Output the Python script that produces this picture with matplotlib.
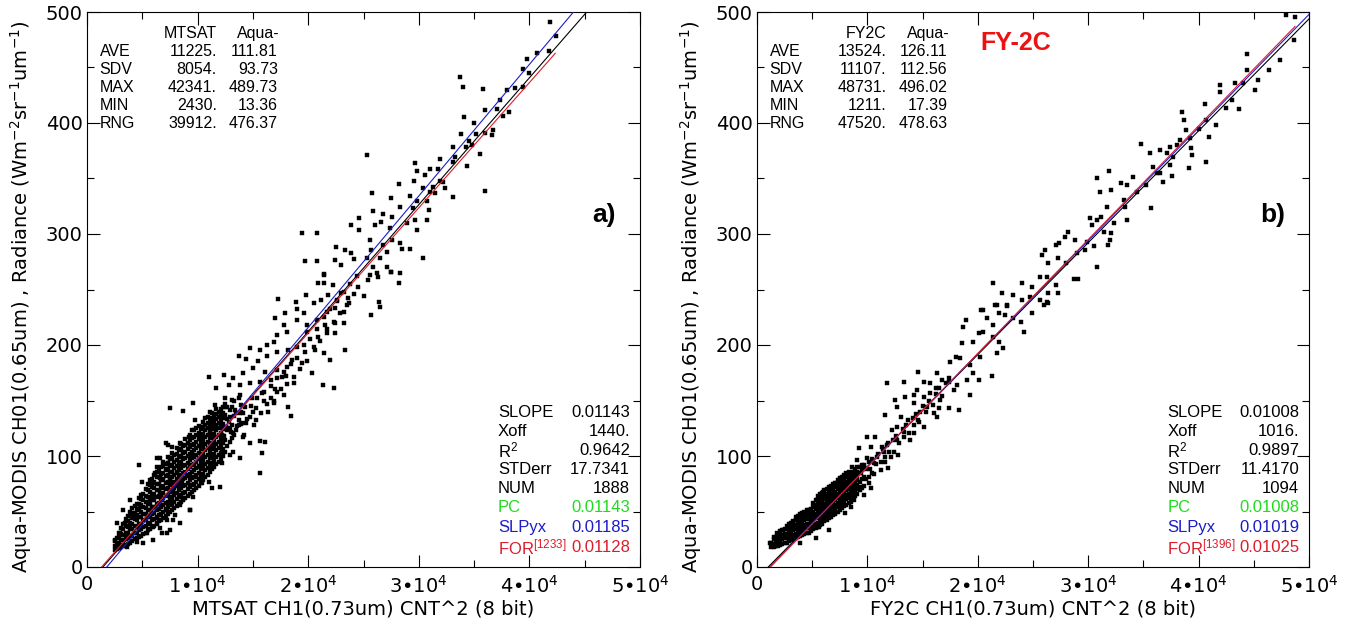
import numpy as np
import matplotlib
matplotlib.use("Agg")
import matplotlib.pyplot as plt
from matplotlib.ticker import FixedLocator, FixedFormatter, MultipleLocator

plt.rcParams['mathtext.default'] = 'regular'

# ---------------- data (x in units of 1000 counts, y radiance) ----------------
mtsat_x_k = [
    41.9, 42.4, 41.8, 40.7, 39.8, 39.4, 40.0, 33.7, 34.0, 35.8, 38.0, 38.7, 39.4, 37.3, 36.0, 37.1,
    38.2, 37.6, 34.1, 35.0, 36.7, 36.6, 36.0, 33.8, 35.2, 34.5, 34.8, 35.5, 34.3, 33.1, 33.3, 34.4,
    33.1, 31.9, 25.3, 29.7, 29.8, 31.0, 31.7, 30.6, 32.2, 32.4, 31.9, 31.3, 29.6, 28.2, 30.4, 31.0,
    31.5, 33.1, 36.0, 25.8, 27.5, 29.2, 29.8, 30.7, 30.9, 29.5, 28.3, 27.6, 26.8, 25.9, 24.6, 29.7,
    30.7, 28.9, 29.8, 23.9, 26.0, 26.6, 24.6, 27.4, 27.6, 28.3, 28.5, 29.2, 25.6, 25.7, 26.8, 27.1,
    25.3, 26.5, 22.5, 23.3, 23.9, 24.1, 22.4, 23.0, 25.9, 27.1, 27.5, 28.3, 25.6, 26.3, 21.4, 19.7,
    20.8, 20.8, 19.4, 30.4,
    21.4, 21.4, 20.9, 22.2, 19.8, 20.5, 21.2, 21.8, 17.3, 18.9, 23.6, 23.7, 25.0, 26.4, 25.7, 26.5,
    25.4, 26.2, 28.2, 27.5, 24.5, 23.0, 22.6, 21.7, 22.4, 23.2, 19.6, 19.0, 17.9, 17.0, 17.8, 19.0,
    19.9, 20.8, 21.5, 22.4, 23.2, 22.4, 21.7, 20.9, 19.9, 18.1, 17.2, 16.9, 16.3, 15.6, 14.7, 13.7,
    14.4, 15.5, 16.3, 17.2, 18.2, 19.0, 19.7, 20.6, 21.4, 22.0, 23.3, 18.5, 19.4, 18.1, 17.2, 16.1,
    15.0, 14.1, 13.2, 12.4, 11.0, 11.7, 12.8, 13.8, 14.7, 15.6, 16.6, 17.6, 18.7, 20.3, 21.3, 22.3,
    17.2, 17.8, 16.6, 15.8, 14.9, 13.8, 13.1, 12.5, 16.9, 18.2, 18.4, 16.4, 15.3, 14.3, 13.4, 12.5,
    11.6, 11.1, 9.6, 8.7, 7.5, 9.8, 10.7, 11.9, 12.9, 13.8, 14.7, 14.4, 15.3, 13.7, 12.6, 11.6,
    10.5, 9.5, 9.2, 10.1, 11.1, 12.2, 13.2, 14.1, 14.7, 15.6, 16.1, 15.8, 13.8, 12.9, 12.2, 11.3,
    10.4, 9.3, 8.4, 7.7, 7.1, 8.7, 9.6, 10.5, 11.4, 12.2, 11.3, 10.2, 9.3, 8.4, 7.5, 6.6,
    6.3, 7.1, 8.1, 9.0, 9.9, 11.0, 12.0, 11.3, 10.4, 9.3, 8.6, 7.5, 6.6, 6.0, 6.9, 7.8,
    8.7, 9.6, 9.3, 8.4, 7.7, 6.8, 6.0, 6.2, 7.1, 8.0, 7.2, 6.3, 5.9, 7.2, 6.6, 6.0, 15.6,
    4.73, 4.94, 6.15, 6.30, 7.35, 5.85, 3.89, 3.29, 2.68, 2.98, 2.53, 3.59, 4.64, 5.39, 4.19, 4.79,
    5.69, 6.60, 7.20, 6.30, 5.39, 4.49, 3.59, 3.14, 2.83, 3.89, 3.44, 6.75, 7.80, 9.31, 8.41, 7.50,
    6.00, 5.09, 8.71, 8.11, 6.90, 7.35,
    12.4, 12.8, 13.2, 13.6, 13.9, 14.2, 14.5, 14.8, 15.1, 15.4, 15.7, 16.0, 16.3, 16.6, 16.9, 17.2,
    17.5, 17.8, 18.1, 18.4, 18.7, 19.0, 19.3, 19.6, 19.9, 20.2, 20.5, 20.8, 21.1, 21.4, 21.7, 22.0,
    22.3, 22.6, 22.9, 23.2, 23.5, 23.8, 24.1, 24.4, 13.0, 14.0, 15.0, 16.0, 17.0, 18.0,
]
aqua_y_a = [
    490.7, 478.7, 465.0, 462.8, 457.4, 448.3, 445.3, 441.7, 432.7, 430.3, 429.7, 431.2, 432.0, 420.7, 411.7, 412.3,
    410.2, 406.3, 405.1, 400.3, 393.7, 389.2, 391.3, 390.1, 390.1, 384.1, 380.2, 372.1, 378.7, 378.1, 369.7, 361.3,
    365.2, 367.3, 371.2, 363.7, 357.1, 358.3, 358.3, 353.2, 347.2, 341.2, 348.1, 342.6, 348.1, 345.0, 341.2, 338.2,
    336.6, 333.6, 338.7, 337.2, 332.7, 334.2, 330.0, 330.0, 321.6, 323.1, 324.6, 315.6, 318.0, 321.0, 314.1, 312.6,
    312.6, 310.2, 303.6, 308.1, 308.1, 311.1, 303.6, 305.1, 294.6, 291.6, 286.2, 286.2, 294.6, 285.6, 290.1, 284.1,
    278.1, 278.1, 288.0, 285.6, 282.6, 277.2, 276.6, 272.1, 270.6, 270.6, 266.1, 264.6, 263.1, 261.0, 263.1, 276.0,
    276.0, 300.6, 300.6, 278.1,
    264.0, 255.6, 256.2, 254.1, 245.1, 237.6, 240.6, 245.1, 241.2, 238.5, 242.1, 237.6, 244.2, 239.1, 227.1, 234.0,
    258.6, 264.6, 255.6, 266.1, 252.6, 246.6, 240.6, 230.1, 233.1, 230.1, 229.2, 232.2, 228.6, 224.1, 218.1, 222.6,
    218.1, 222.6, 218.1, 219.6, 219.6, 210.6, 210.6, 207.6, 212.1, 212.1, 209.1, 203.0, 200.0, 195.5, 197.0, 190.1,
    187.1, 185.9, 190.1, 194.0, 195.5, 198.5, 194.0, 195.5, 192.5, 186.5, 195.5, 186.5, 183.5, 180.5, 177.5, 176.0,
    179.0, 174.5, 170.0, 173.0, 171.5, 161.0, 164.0, 164.0, 165.5, 167.0, 168.5, 171.5, 165.5, 174.5, 164.0, 161.0,
    158.0, 155.0, 152.0, 156.5, 152.0, 155.0, 150.5, 152.0, 147.5, 144.5, 136.1, 140.0, 143.0, 144.5, 141.5, 144.5,
    146.0, 140.0, 147.5, 140.9, 143.0, 132.5, 134.0, 135.5, 135.5, 138.5, 135.5, 129.5, 132.5, 128.0, 126.5, 126.5,
    126.5, 123.5, 117.5, 119.0, 120.5, 119.0, 120.5, 117.5, 111.5, 113.9, 113.0, 103.0, 98.0, 101.0, 105.5, 108.5,
    111.5, 110.0, 111.5, 108.5, 111.5, 104.0, 101.0, 99.5, 98.0, 93.5, 88.9, 90.4, 91.9, 94.9, 98.0, 98.0,
    90.4, 87.4, 85.9, 82.9, 81.4, 76.9, 72.4, 70.9, 75.4, 73.9, 76.9, 78.4, 79.9, 75.4, 70.9, 67.9,
    66.4, 63.4, 51.4, 55.9, 60.4, 60.4, 63.4, 54.4, 51.4, 46.9, 42.4, 43.9, 48.4, 30.4, 34.9, 36.4, 84.4,
    91.9, 76.9, 85.0, 97.9, 109.9, 75.4, 60.4, 51.4, 39.4, 30.4, 24.4, 27.4, 36.4, 45.4, 45.4, 54.4,
    60.4, 66.4, 51.4, 39.4, 30.4, 22.9, 18.4, 19.9, 16.9, 36.4, 39.4, 30.4, 42.4, 51.4, 39.4, 33.4,
    24.4, 21.4, 60.4, 75.4, 78.4, 93.4,
    118, 131, 104, 127, 140, 119, 133, 145, 128, 152, 139, 158, 147, 163, 150, 170,
    160, 176, 165, 183, 171, 188, 178, 200, 186, 205, 198, 214, 204, 225, 214, 232,
    221, 240, 229, 248, 236, 255, 246, 262, 122, 130, 140, 150, 160, 172,
]
# dense core of the MTSAT cloud, read column by column (x in 1000 counts, y values in that column)
mtsat_core_cols = [2.5, 2.7, 2.9, 3.1, 3.3, 3.5, 3.7, 3.9, 4.1, 4.3, 4.5, 4.7, 4.9, 5.1, 5.3, 5.5,
                   5.7, 5.9, 6.1, 6.3, 6.5, 6.7, 6.9, 7.1, 7.3, 7.5, 7.7, 7.9, 8.1, 8.3, 8.5, 8.7,
                   8.9, 9.1, 9.3, 9.5, 9.7, 9.9, 10.1, 10.3, 10.5, 10.7, 10.9, 11.1, 11.3, 11.5,
                   11.7, 11.9, 12.1, 12.3, 12.5, 12.7, 12.9, 13.1, 13.3, 13.5, 13.7, 13.9, 14.1]
mtsat_core_ys = [
    [15, 19, 23], [16, 21, 26], [17, 22, 27, 31], [18, 24, 30, 35], [19, 24, 29, 34, 39],
    [20, 25, 31, 37, 43], [21, 26, 31, 36, 41, 46], [22, 28, 34, 40, 46, 50],
    [23, 28, 34, 39, 44, 49, 53], [25, 31, 37, 43, 49, 55], [26, 31, 36, 42, 47, 52, 57],
    [27, 33, 39, 45, 51, 57, 62], [28, 34, 39, 45, 50, 56, 61, 65], [30, 36, 42, 48, 54, 60, 66],
    [31, 37, 42, 48, 53, 59, 64, 70], [33, 39, 45, 51, 57, 63, 69, 75],
    [34, 40, 46, 51, 57, 62, 68, 74, 78], [36, 42, 48, 54, 60, 66, 72, 79],
    [37, 43, 49, 54, 60, 66, 71, 77, 83], [39, 45, 51, 57, 63, 69, 75, 81, 86],
    [41, 47, 52, 58, 64, 69, 75, 81, 87], [42, 48, 54, 60, 66, 72, 78, 84, 90],
    [44, 50, 56, 62, 67, 73, 79, 85, 91, 95], [46, 52, 58, 64, 70, 76, 82, 88, 93],
    [48, 54, 59, 65, 71, 77, 83, 88, 94, 99], [50, 56, 62, 68, 74, 80, 86, 91, 97],
    [51, 57, 63, 69, 75, 81, 86, 92, 98, 103], [53, 59, 65, 71, 77, 83, 89, 95, 101],
    [55, 61, 67, 73, 79, 85, 91, 96, 102, 107], [57, 63, 69, 75, 81, 87, 93, 99, 105],
    [59, 65, 71, 77, 83, 89, 94, 100, 106, 111], [61, 67, 73, 79, 85, 91, 97, 103, 109],
    [62, 68, 74, 80, 86, 92, 98, 104, 110, 115], [64, 70, 76, 82, 88, 94, 100, 106, 112],
    [66, 72, 78, 84, 90, 96, 102, 108, 114, 119], [68, 74, 80, 86, 92, 98, 104, 110, 116],
    [69, 75, 81, 87, 93, 99, 105, 111, 117, 123], [71, 77, 83, 89, 95, 101, 107, 113, 119, 125],
    [73, 79, 85, 91, 97, 103, 109, 115, 121, 127], [76, 82, 88, 94, 100, 106, 112, 118, 124],
    [78, 84, 90, 96, 102, 108, 114, 120, 126, 131], [81, 87, 93, 99, 105, 111, 117, 123, 128],
    [83, 89, 95, 101, 107, 113, 119, 125, 130, 135], [86, 92, 98, 104, 110, 116, 122, 127, 132],
    [88, 94, 100, 106, 112, 118, 124, 129, 134, 139], [90, 96, 102, 108, 114, 120, 126, 131, 136],
    [93, 99, 105, 111, 117, 123, 128, 133, 138, 142], [95, 101, 107, 113, 119, 125, 130, 135, 140],
    [97, 103, 109, 115, 121, 127, 132, 137, 142], [100, 106, 112, 118, 124, 129, 134, 139, 144],
    [104, 114, 126, 137, 147], [109, 123, 133, 144], [113, 125, 141], [116, 128, 144],
    [119, 136, 150], [123, 139], [132, 152], [129, 146], [139],
]

fy2c_x_k = [
    47.9, 48.7, 48.6, 47.4, 46.4, 45.4, 44.4, 44.4, 45.1, 44.0, 43.3, 41.9, 41.9, 43.0, 42.5, 43.7,
    40.6, 41.6, 40.7, 40.9, 40.0, 38.5, 38.7, 38.9, 39.2, 38.3, 38.0, 39.3, 39.4, 40.7, 39.1, 37.4,
    37.1, 37.7, 37.4, 36.5, 35.6, 34.8, 35.9, 36.5, 36.8, 37.6, 36.2, 35.2, 34.4, 33.5, 34.1, 33.0,
    31.9, 30.8, 32.1, 33.2, 33.3, 33.5, 35.7, 31.1, 31.7, 31.2, 30.8, 30.2, 30.3, 31.4, 32.3, 32.1,
    31.8, 32.0, 30.5, 29.9, 29.7, 28.8, 28.2, 27.9, 27.4, 27.1, 27.3, 28.0, 29.0, 30.8, 28.7, 29.1,
    25.8, 26.1, 26.4, 25.6, 26.3, 27.1, 27.3, 26.4, 26.4, 25.6, 24.7, 24.9, 24.0, 23.2, 24.0, 22.2,
    21.4, 21.6, 22.6, 20.3,
    21.7, 22.6, 21.9, 22.5, 23.2, 23.9, 24.2, 24.9, 26.0, 26.3, 20.5, 20.8, 21.4, 20.1, 20.5, 18.9,
    18.7, 21.9, 22.3, 21.7, 21.4, 19.6, 18.6, 17.5, 18.0, 18.4, 19.3, 20.2, 19.6, 19.0, 20.1, 21.3,
    19.3, 18.1, 17.8, 17.4, 16.8, 16.3, 16.2, 15.7, 15.1, 14.6, 13.3, 11.8, 13.4, 14.2, 14.5, 15.1,
    15.7, 16.6, 17.4, 18.3, 16.5, 16.0, 16.3, 15.4, 14.8, 14.2, 14.6, 15.1, 14.2, 13.7, 13.3, 12.7,
    13.0, 12.5, 11.6, 12.2, 12.7, 12.7, 13.3, 13.9, 14.2, 10.7, 10.0, 9.2, 10.3, 11.3, 11.9, 11.5,
    12.4, 12.8, 12.1, 10.9, 10.0, 9.1, 8.6, 9.7, 10.6, 11.6, 11.9, 11.2, 10.4, 9.4, 8.3, 7.5,
    7.2, 8.2, 9.1, 10.1, 10.3, 9.4, 8.5, 9.7, 7.7, 6.8, 6.0, 6.9, 7.9, 8.8, 8.5, 7.4,
    6.3, 5.6, 5.3, 6.0, 7.1, 8.0, 6.3, 5.4, 4.5, 4.8, 3.9, 3.3, 3.6, 4.5, 5.6, 6.5,
    5.3, 4.2, 3.0, 2.4, 1.8, 1.5, 1.2, 2.1, 3.0, 3.9,
    10.2, 10.4, 10.6, 10.8, 11.0, 11.2, 11.4, 11.6, 11.8, 12.0, 12.3, 12.6, 12.9, 13.2, 13.5, 13.8,
    14.1, 14.4, 14.7, 15.0, 15.3, 15.6, 15.9, 16.2, 16.5, 16.8, 17.1, 17.4,
]
aqua_y_b = [
    497.3, 495.2, 474.8, 456.8, 447.7, 438.7, 462.2, 447.7, 429.7, 435.7, 435.7, 434.2, 428.2, 420.7, 413.2, 412.3,
    417.1, 398.2, 402.7, 387.7, 394.3, 410.2, 402.7, 393.7, 386.2, 384.7, 380.2, 377.2, 371.2, 365.2, 359.2, 378.7,
    372.7, 369.7, 362.2, 375.7, 372.7, 380.8, 360.7, 354.7, 347.2, 352.3, 354.7, 344.2, 338.2, 344.2, 351.7, 346.3,
    356.8, 350.2, 339.7, 330.6, 324.6, 312.6, 323.7, 338.2, 324.6, 315.6, 312.6, 314.1, 308.1, 302.1, 309.6, 300.6,
    290.1, 294.6, 289.2, 293.1, 285.6, 294.6, 302.1, 297.6, 291.6, 290.1, 278.1, 273.6, 282.6, 270.6, 259.2, 259.2,
    281.1, 285.6, 273.6, 261.6, 261.6, 254.1, 246.6, 246.6, 237.6, 240.6, 243.6, 252.6, 255.6, 245.1, 240.6, 246.6,
    255.6, 236.1, 236.1, 231.5,
    236.0, 235.1, 228.5, 227.0, 224.0, 221.0, 212.0, 228.5, 236.0, 239.0, 231.5, 224.0, 218.0, 210.5, 212.0, 222.5,
    216.5, 203.0, 197.0, 192.5, 207.5, 203.0, 201.5, 185.0, 189.0, 188.0, 182.0, 189.5, 174.5, 168.5, 168.5, 172.0,
    155.0, 164.0, 159.5, 167.0, 168.5, 175.0, 161.0, 165.5, 167.0, 176.0, 167.0, 165.5, 153.4, 154.9, 159.4, 153.4,
    156.4, 150.4, 142.9, 141.4, 142.9, 138.4, 135.4, 144.4, 139.9, 147.4, 132.4, 126.4, 127.9, 132.4, 121.9, 144.4,
    135.4, 150.4, 136.9, 123.4, 126.4, 114.4, 117.4, 114.4, 120.4, 117.4, 116.8, 106.9, 108.4, 108.4, 111.4, 103.9,
    103.9, 100.9, 99.4, 99.4, 97.9, 96.4, 90.4, 91.9, 93.4, 94.9, 88.9, 87.4, 84.4, 84.4, 82.9, 79.9,
    75.4, 76.9, 78.4, 75.4, 70.9, 72.4, 69.4, 64.9, 66.4, 69.4, 67.9, 63.4, 60.4, 60.4, 54.4, 55.9,
    58.9, 57.4, 54.4, 51.4, 48.4, 48.4, 43.9, 46.9, 48.4, 43.9, 42.4, 40.9, 36.4, 36.4, 36.4, 33.4,
    25.9, 30.4, 31.9, 33.4, 30.4, 27.4, 21.4, 22.9, 25.9, 21.9,
    88, 97, 84, 93, 102, 95, 106, 99, 110, 104, 114, 118, 112, 124, 128, 121,
    134, 138, 131, 145, 140, 150, 146, 156, 161, 154, 166, 170,
]
fy2c_core_cols = [1.3, 1.5, 1.7, 1.9, 2.1, 2.3, 2.5, 2.7, 2.9, 3.1, 3.3, 3.5, 3.7, 3.9, 4.1, 4.3,
                  4.5, 4.7, 4.9, 5.1, 5.3, 5.5, 5.7, 5.9, 6.1, 6.3, 6.5, 6.7, 6.9, 7.1, 7.3, 7.5,
                  7.7, 7.9, 8.1, 8.3, 8.5, 8.7, 8.9, 9.1, 9.3, 9.5, 9.7, 9.9, 10.1]
fy2c_core_ys = [
    [18, 22], [18, 21, 25], [19, 23, 27], [19, 22, 26, 30], [20, 24, 28, 32], [21, 25, 29, 33],
    [22, 26, 30, 34], [22, 26, 30, 34, 37], [23, 27, 31, 35, 39], [24, 28, 32, 36, 40],
    [25, 29, 33, 37, 41], [26, 30, 34, 38, 42, 45], [27, 31, 35, 39, 43, 46], [28, 32, 36, 40, 44, 48],
    [29, 33, 37, 41, 45, 49], [30, 34, 38, 42, 46, 50], [31, 35, 39, 43, 47, 51], [31, 35, 39, 43, 47, 51],
    [32, 36, 40, 44, 48, 52], [34, 38, 42, 46, 50, 54, 58], [35, 39, 44, 48, 52, 56, 60],
    [36, 40, 45, 49, 53, 57, 61, 64], [38, 42, 46, 50, 54, 58, 62, 66], [39, 43, 47, 51, 55, 59, 63, 67],
    [41, 45, 49, 53, 57, 61, 65, 69], [42, 46, 50, 54, 58, 62, 66, 70], [44, 48, 52, 56, 60, 64, 68, 72],
    [45, 49, 53, 57, 61, 65, 69, 73], [47, 51, 55, 59, 63, 67, 71, 75], [48, 52, 56, 60, 64, 68, 72, 76],
    [50, 54, 58, 62, 66, 70, 74, 78], [51, 55, 59, 63, 67, 71, 75, 79], [53, 57, 61, 65, 69, 73, 77, 81],
    [55, 59, 63, 67, 71, 75, 79, 83], [56, 61, 65, 69, 73, 77, 81, 85], [58, 62, 66, 70, 74, 78, 82, 86],
    [59, 63, 67, 71, 75, 79, 83], [62, 66, 70, 74, 78, 82, 86], [64, 68, 72, 76, 80, 84, 88],
    [66, 70, 74, 78, 82, 86, 90], [69, 77, 85, 90], [71, 79, 87, 92],
    [73, 81, 90], [79, 88], [81, 95],
]

# statistics tables
stat_names = ["AVE", "SDV", "MAX", "MIN", "RNG"]
mtsat_stats = ["11225.", "8054.", "42341.", "2430.", "39912."]
mtsat_aqua_stats = ["111.81", "93.73", "489.73", "13.36", "476.37"]
fy2c_stats = ["13524.", "11107.", "48731.", "1211.", "47520."]
fy2c_aqua_stats = ["126.11", "112.56", "496.02", "17.39", "478.63"]

fit_names = ["SLOPE", "Xoff", "R$^{2}$", "STDerr", "NUM"]
fit_a = ["0.01143", "1440.", "0.9642", "17.7341", "1888"]
fit_b = ["0.01008", "1016.", "0.9897", "11.4170", "1094"]

# regression parameters
mean_a = (11225.0, 111.81); xmax_a = 42341.0
pc_a, xoff_a, slpyx_a, for_a, nfor_a = 0.01143, 1440.0, 0.01185, 0.01128, "1233"
mean_b = (13524.0, 126.11); xmax_b = 48731.0
pc_b, xoff_b, slpyx_b, for_b, nfor_b = 0.01008, 1016.0, 0.01019, 0.01025, "1396"

xtick_vals = [0, 10000, 20000, 30000, 40000, 50000]
xtick_labels = ["0", "1•10$^{4}$", "2•10$^{4}$", "3•10$^{4}$", "4•10$^{4}$", "5•10$^{4}$"]
ytick_vals = [0, 100, 200, 300, 400, 500]

GREEN = "#1fdc1f"
BLUE = "#1c1cc8"
RED = "#dc1c2c"
TF = "Liberation Sans"

fig = plt.figure(figsize=(13.48, 6.25), dpi=100)
ax1 = fig.add_axes([87 / 1348, 58 / 625, 553 / 1348, 555 / 625])
ax2 = fig.add_axes([757 / 1348, 58 / 625, 552 / 1348, 555 / 625])


def flatten_core(cols, ys):
    cx, cy = [], []
    for c, col in zip(cols, ys):
        cx.extend([c] * len(col))
        cy.extend(col)
    return cx, cy


def panel(ax, xs_k, ys, core_cols, core_ys, mean, xmax, pc, xoff, slpyx, slfor, nfor, sat, st1, st2,
          fitv, xlabel, letter):
    cx, cy = flatten_core(core_cols, core_ys)
    xs = np.array(list(xs_k) + cx) * 1000.0
    ys = np.array(list(ys) + cy, dtype=float)
    ax.plot(xs, ys, ls="none", marker="s", ms=3.0, mfc="black", mec="black", mew=0.3, zorder=2)
    mx, my = mean
    # black: PC through x-offset
    xb = np.array([xoff, 50000.0])
    ax.plot(xb, pc * (xb - xoff), color="black", lw=0.8, zorder=3)
    # blue: SLPyx through mean
    x0 = mx - my / slpyx
    xl = np.array([x0, 50000.0])
    ax.plot(xl, my + slpyx * (xl - mx), color=BLUE, lw=0.8, zorder=3)
    # red: FOR through mean
    x0r = mx - my / slfor
    xr = np.array([x0r, xmax])
    ax.plot(xr, my + slfor * (xr - mx), color=RED, lw=0.8, zorder=3)

    ax.set_xlim(0, 50000)
    ax.set_ylim(0, 500)
    ax.xaxis.set_major_locator(FixedLocator(xtick_vals))
    ax.xaxis.set_major_formatter(FixedFormatter(xtick_labels))
    ax.xaxis.set_minor_locator(MultipleLocator(5000))
    ax.yaxis.set_major_locator(FixedLocator(ytick_vals))
    ax.yaxis.set_minor_locator(MultipleLocator(50))
    ax.tick_params(which="both", direction="in", top=True, right=True, width=0.8)
    ax.tick_params(which="major", length=9)
    ax.tick_params(which="minor", length=5)
    ax.tick_params(axis="x", which="major", labelsize=14, pad=6)
    ax.tick_params(axis="y", which="major", labelsize=14, pad=3)
    for sp in ax.spines.values():
        sp.set_linewidth(0.8)

    ax.set_xlabel(xlabel, fontsize=14)
    ax.xaxis.set_label_coords(0.5, -0.075)
    ax.xaxis.label.set_va("center")
    ax.set_ylabel("Aqua-MODIS CH01(0.65um) , Radiance (Wm$^{-2}$sr$^{-1}$um$^{-1}$)", fontsize=14)
    ax.yaxis.set_label_coords(-0.12, 0.487)
    ax.yaxis.label.set_va("center")

    T = ax.transAxes
    # top-left statistics
    ax.text(0.235, 0.962, sat, transform=T, ha="right", va="center", fontsize=11.5, family=TF)
    ax.text(0.348, 0.962, "Aqua-", transform=T, ha="right", va="center", fontsize=11.5, family=TF)
    for i, nm in enumerate(stat_names):
        yy = 0.929 - i * 0.0325
        ax.text(0.023, yy, nm, transform=T, ha="left", va="center", fontsize=11.5, family=TF)
        ax.text(0.235, yy, st1[i], transform=T, ha="right", va="center", fontsize=11.5, family=TF)
        ax.text(0.345, yy, st2[i], transform=T, ha="right", va="center", fontsize=11.5, family=TF)

    # bottom-right fit statistics
    rows = [0.278, 0.244, 0.210, 0.175, 0.141, 0.107, 0.072, 0.036]
    for i, nm in enumerate(fit_names):
        ax.text(0.743, rows[i], nm, transform=T, ha="left", va="center", fontsize=12, family=TF)
        ax.text(0.982, rows[i], fitv[i], transform=T, ha="right", va="center", fontsize=12, family=TF)
    ax.text(0.743, rows[5], "PC", transform=T, ha="left", va="center", fontsize=12, family=TF, color=GREEN)
    ax.text(0.982, rows[5], f"{pc:.5f}", transform=T, ha="right", va="center", fontsize=12, family=TF, color=GREEN)
    ax.text(0.743, rows[6], "SLPyx", transform=T, ha="left", va="center", fontsize=12, family=TF, color=BLUE)
    ax.text(0.982, rows[6], f"{slpyx:.5f}", transform=T, ha="right", va="center", fontsize=12, family=TF, color=BLUE)
    ax.text(0.743, rows[7], "FOR$^{[" + nfor + "]}$", transform=T, ha="left", va="center", fontsize=12,
            family=TF, color=RED)
    ax.text(0.982, rows[7], f"{slfor:.5f}", transform=T, ha="right", va="center", fontsize=12, family=TF, color=RED)

    ax.text(0.935, 0.634, letter, transform=T, ha="center", va="center", fontsize=19,
            fontweight="bold", family=TF)


panel(ax1, mtsat_x_k, aqua_y_a, mtsat_core_cols, mtsat_core_ys, mean_a, xmax_a, pc_a, xoff_a, slpyx_a,
      for_a, nfor_a, "MTSAT", mtsat_stats, mtsat_aqua_stats, fit_a, "MTSAT CH1(0.73um) CNT^2 (8 bit)", "a)")
panel(ax2, fy2c_x_k, aqua_y_b, fy2c_core_cols, fy2c_core_ys, mean_b, xmax_b, pc_b, xoff_b, slpyx_b,
      for_b, nfor_b, "FY2C", fy2c_stats, fy2c_aqua_stats, fit_b, "FY2C CH1(0.73um) CNT^2 (8 bit)", "b)")

ax2.text(0.469, 0.944, "FY-2C", transform=ax2.transAxes, ha="center", va="center", fontsize=18,
         fontweight="bold", color="#ee1111", family=TF)

fig.savefig("out.png", dpi=100)
